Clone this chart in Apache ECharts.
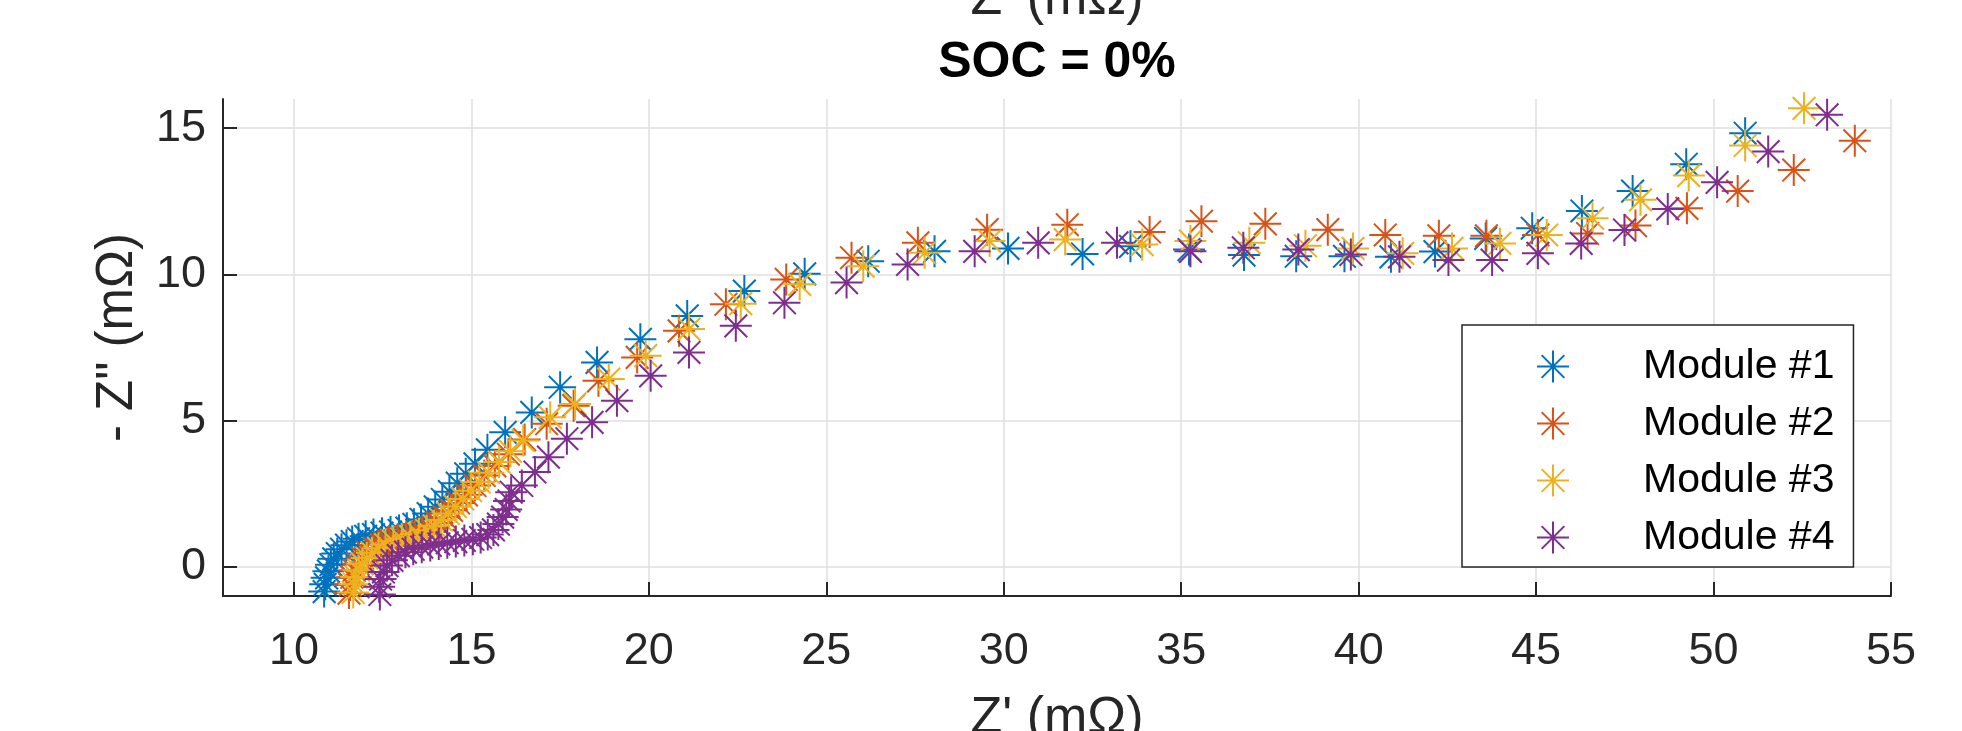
<!DOCTYPE html>
<html>
<head>
<meta charset="utf-8">
<script src="https://cdn.jsdelivr.net/npm/echarts@6/dist/echarts.min.js"></script>
<style>
html,body{margin:0;padding:0;background:#fff;}
#chart{width:1962px;height:731px;}
</style>
</head>
<body>
<div id="chart"></div>
<script>
// ---- Data (Z' in mOhm, -Z'' in mOhm) ----
const seriesNames = ['Module #1', 'Module #2', 'Module #3', 'Module #4'];
const seriesColors = ['#0072BD', '#D95319', '#EDB120', '#7E2F8E'];
const xTicks = [10, 15, 20, 25, 30, 35, 40, 45, 50, 55];
const yTicks = [0, 5, 10, 15];

const zRe1 = [10.85,10.88,10.92,10.97,11.04,11.12,11.22,11.34,11.48,11.64,11.82,12.02,12.24,12.48,12.72,12.96,13.18,13.38,13.58,13.78,13.98,14.18,14.38,14.6,14.84,15.1,15.45,15.95,16.7,17.5,18.54,19.76,21.08,22.69,24.39,26.18,28.05,30.12,32.22,33.57,35.22,36.77,38.24,39.6,40.91,42.15,43.58,44.89,46.29,47.72,49.23,50.89];
const zIm1 = [-0.85,-0.6,-0.38,-0.15,0.07,0.27,0.45,0.6,0.74,0.86,0.96,1.04,1.1,1.15,1.19,1.24,1.32,1.45,1.62,1.82,2.05,2.3,2.57,2.86,3.18,3.52,4.0,4.6,5.28,6.14,6.99,7.78,8.58,9.43,10.02,10.45,10.79,10.89,10.7,10.96,10.85,10.66,10.62,10.62,10.6,10.78,11.23,11.58,12.17,12.85,13.77,14.83];

const zRe2 = [11.55,11.58,11.63,11.7,11.8,11.93,12.08,12.26,12.46,12.68,12.92,13.16,13.4,13.62,13.84,14.04,14.24,14.44,14.64,14.86,15.1,15.36,15.66,16.04,16.5,17.12,17.88,18.58,19.67,20.85,22.17,23.87,25.71,27.58,29.53,31.79,34.11,35.57,37.37,39.13,40.75,42.26,43.6,45.05,46.45,47.8,49.25,50.68,52.26,53.98];
const zIm2 = [-0.9,-0.62,-0.36,-0.12,0.1,0.3,0.48,0.63,0.76,0.86,0.94,1.01,1.08,1.18,1.32,1.5,1.7,1.93,2.18,2.46,2.78,3.12,3.45,3.85,4.35,4.89,5.51,6.36,7.16,8.07,8.98,9.83,10.57,11.08,11.53,11.7,11.45,11.82,11.73,11.53,11.35,11.32,11.32,11.35,11.4,11.67,12.26,12.85,13.57,14.57];

const zRe3 = [11.67,11.7,11.75,11.82,11.92,12.05,12.2,12.38,12.58,12.8,13.04,13.28,13.52,13.74,13.95,14.15,14.35,14.55,14.76,14.98,15.22,15.48,15.78,16.1,16.46,17.22,17.92,18.87,19.91,21.13,22.59,24.25,26.04,27.77,29.6,31.73,33.9,35.26,36.92,38.5,39.84,41.24,42.63,43.98,45.3,46.59,47.94,49.3,50.89,52.55];
const zIm3 = [-0.88,-0.6,-0.35,-0.12,0.1,0.3,0.48,0.63,0.76,0.87,0.95,1.03,1.12,1.24,1.4,1.6,1.82,2.06,2.32,2.6,2.9,3.22,3.58,3.95,4.32,5.11,5.57,6.42,7.22,8.13,9.0,9.66,10.28,10.74,11.14,11.19,11.02,11.14,11.08,10.98,10.89,10.72,10.89,11.06,11.35,11.92,12.55,13.38,14.41,15.68];

const zRe4 = [12.42,12.4,12.44,12.52,12.62,12.76,12.94,13.14,13.36,13.6,13.84,14.08,14.32,14.56,14.8,15.04,15.26,15.46,15.62,15.76,15.88,15.98,16.06,16.12,16.42,16.79,17.17,17.69,18.4,19.1,20.05,21.13,22.45,23.82,25.57,27.29,29.18,30.97,33.19,35.26,36.75,38.3,39.78,41.15,42.53,43.76,45.05,46.27,47.49,48.71,50.1,51.54,53.2];
const zIm4 = [-0.95,-0.68,-0.42,-0.18,0.04,0.22,0.38,0.5,0.6,0.67,0.73,0.78,0.82,0.86,0.9,0.94,1.0,1.1,1.26,1.46,1.7,1.96,2.25,2.55,2.78,3.24,3.75,4.38,4.94,5.68,6.53,7.33,8.24,9.03,9.72,10.34,10.79,11.08,11.08,10.79,10.91,10.85,10.68,10.6,10.49,10.49,10.72,11.06,11.52,12.24,13.15,14.2,15.46];

const zReAll = [zRe1, zRe2, zRe3, zRe4];
const zImAll = [zIm1, zIm2, zIm3, zIm4];

// ---- Chart ----
const FONT = '"Liberation Sans", Arial, Helvetica, sans-serif';
const AX = '#262626';
const STAR = 'path://M0,-1L0,1M-1,0L1,0M-0.71,-0.71L0.71,0.71M-0.71,0.71L0.71,-0.71';
const PLOT_CX = 1057;

const chart = echarts.init(document.getElementById('chart'), null, {renderer: 'canvas'});

const series = seriesNames.map((name, i) => ({
  type: 'scatter',
  name: name,
  data: zReAll[i].map((x, k) => [x, zImAll[i][k]]),
  symbol: STAR,
  symbolSize: 32,
  itemStyle: {color: 'rgba(0,0,0,0)', borderColor: seriesColors[i], borderWidth: 2, opacity: 1},
  emphasis: {disabled: true},
  z: 3 + i
}));

chart.setOption({
  animation: false,
  backgroundColor: '#ffffff',
  textStyle: {fontFamily: FONT},
  title: {
    text: 'SOC = 0%',
    left: PLOT_CX,
    textAlign: 'center',
    top: 38,
    padding: 0,
    textStyle: {fontSize: 50, fontWeight: 'bold', color: '#000', fontFamily: FONT, lineHeight: 50}
  },
  graphic: [{
    type: 'text',
    x: PLOT_CX,
    y: 0,
    style: {text: "Z' (mΩ)", fontSize: 52, fontFamily: FONT, fill: AX, align: 'center', verticalAlign: 'middle'}
  }],
  grid: {left: 223, right: 71, top: 99, bottom: 135, containLabel: false, outerBoundsMode: 'none'},
  legend: {
    orient: 'vertical',
    left: 1462,
    top: 325,
    itemWidth: 170,
    itemHeight: 32,
    itemGap: 16,
    padding: [21, 19, 9, 74],
    borderColor: AX,
    borderWidth: 1.5,
    backgroundColor: '#ffffff',
    selectedMode: false,
    textStyle: {fontSize: 41, color: '#000', fontFamily: FONT, lineHeight: 40},
    data: seriesNames.map((n, i) => ({
      name: n,
      icon: STAR,
      itemStyle: {color: 'rgba(0,0,0,0)', borderColor: seriesColors[i], borderWidth: 2}
    }))
  },
  xAxis: {
    type: 'value',
    min: 8, max: 55,
    name: "Z' (mΩ)",
    nameLocation: 'middle',
    nameGap: 97,
    nameTextStyle: {fontSize: 52, color: AX, fontFamily: FONT},
    axisLine: {show: true, onZero: false, lineStyle: {color: AX, width: 2}},
    axisTick: {show: true, inside: true, length: 14, customValues: xTicks, lineStyle: {color: AX, width: 2}},
    axisLabel: {customValues: xTicks, fontSize: 45, color: AX, margin: 33, fontFamily: FONT},
    splitLine: {show: true, lineStyle: {color: '#dfdfdf', width: 1.5}}
  },
  yAxis: {
    type: 'value',
    min: -1, max: 16,
    name: '- Z" (mΩ)',
    nameLocation: 'middle',
    nameGap: 80,
    nameTextStyle: {fontSize: 51, color: AX, fontFamily: FONT, padding: [0, 0, 0, 20]},
    axisLine: {show: true, onZero: false, lineStyle: {color: AX, width: 2}},
    axisTick: {show: true, inside: true, length: 14, customValues: yTicks, lineStyle: {color: AX, width: 2}},
    axisLabel: {customValues: yTicks, fontSize: 45, color: AX, margin: 17, fontFamily: FONT},
    splitLine: {show: true, lineStyle: {color: '#dfdfdf', width: 1.5}}
  },
  series: series
});
</script>
</body>
</html>
